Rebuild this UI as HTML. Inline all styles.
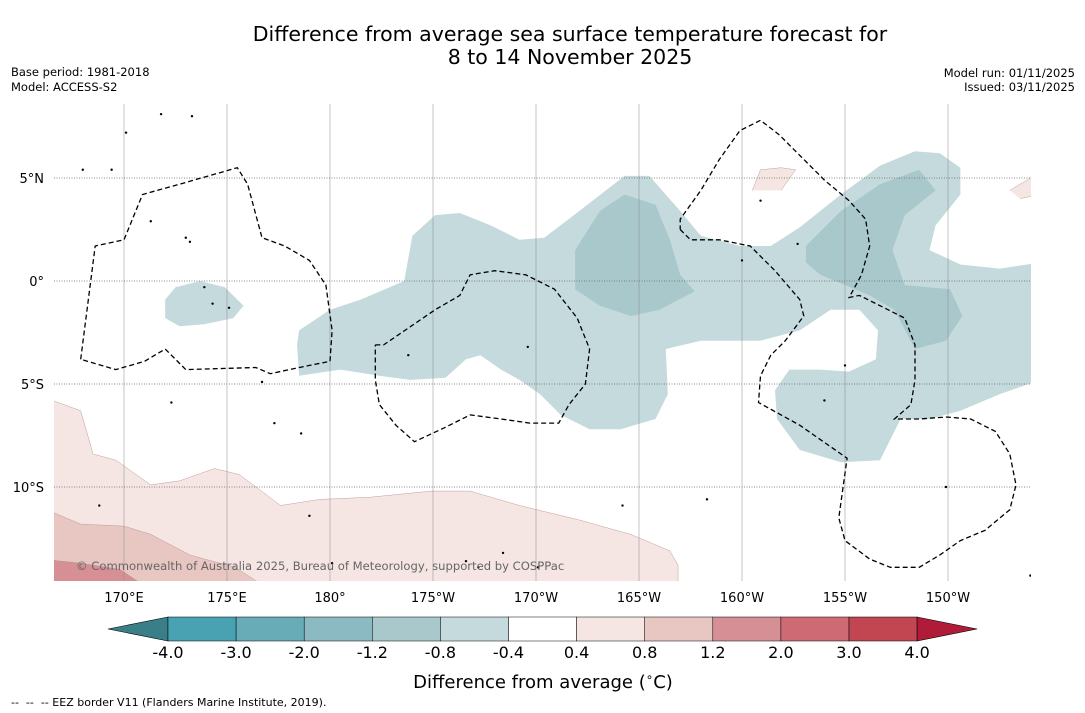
<!DOCTYPE html>
<html><head><meta charset="utf-8">
<style>
html,body{margin:0;padding:0;background:#fff;}
body{width:1085px;height:713px;overflow:hidden;font-family:"DejaVu Sans","Liberation Sans",sans-serif;}
svg{display:block;font-family:"DejaVu Sans","Liberation Sans",sans-serif;}
</style></head>
<body>
<svg id="chart" width="1085" height="713" viewBox="0 0 1085 713" xmlns="http://www.w3.org/2000/svg">
  <text x="570" y="41" font-size="20.5" text-anchor="middle" fill="#000">Difference from average sea surface temperature forecast for</text>
  <text x="570" y="64" font-size="20.5" text-anchor="middle" fill="#000">8 to 14 November 2025</text>
  <text x="11" y="76" font-size="11.5">Base period: 1981-2018</text>
  <text x="11" y="91" font-size="11.5">Model: ACCESS-S2</text>
  <text x="1075" y="77" font-size="11.5" text-anchor="end">Model run: 01/11/2025</text>
  <text x="1075" y="91" font-size="11.5" text-anchor="end">Issued: 03/11/2025</text>
  <defs><clipPath id="mapclip"><rect x="54" y="104" width="977" height="477"/></clipPath></defs>
  <g id="map" clip-path="url(#mapclip)"></g>
  <g id="axes"></g>
  <g id="cbar"></g>
  <text x="543" y="688" font-size="18" text-anchor="middle">Difference from average (<tspan font-size="12" dy="-7">∘</tspan><tspan dy="7">C)</tspan></text>
  <text x="11" y="706" font-size="11" xml:space="preserve">--  --  -- EEZ border V11 (Flanders Marine Institute, 2019).</text>
</svg>
<script>
// ---- data ----
const lonTicks = [170,175,180,185,190,195,200,205,210];
const lonTickLabels = ["170°E","175°E","180°","175°W","170°W","165°W","160°W","155°W","150°W"];
const latTicks = [5,0,-5,-10];
const latTickLabels = ["5°N","0°","5°S","10°S"];
const cbarLevels = ["-4.0","-3.0","-2.0","-1.2","-0.8","-0.4","0.4","0.8","1.2","2.0","3.0","4.0"];
const cbarColors = ["#48a2b2","#68acb8","#8bbac2","#a8c8cc","#c5dadd","#ffffff","#f5e6e4","#e8c7c2","#d58f95","#cd6a73","#c24552"];
const cbarUnder = "#3a7f88";
const cbarOver = "#b01c38";
// contour regions [lon(0-360), lat]
const tealLight = [[178.4,-3.1],[178.5,-2.4],[180.0,-1.4],[181.5,-0.9],[183.6,0.0],[184.0,2.2],[185.1,3.2],[186.3,3.3],[187.8,2.7],[189.2,2.0],[190.4,2.1],[192.1,3.4],[194.3,5.1],[195.5,5.1],[197.0,3.4],[198.0,2.2],[199.9,1.7],[201.4,1.7],[202.8,2.6],[204.8,4.2],[206.7,5.6],[208.4,6.3],[209.6,6.2],[210.6,5.5],[210.6,4.2],[209.4,2.7],[209.1,1.5],[210.6,0.8],[212.5,0.6],[214.5,0.9],[214.5,-4.8],[212.5,-5.5],[210.6,-6.3],[209.1,-6.7],[207.7,-6.7],[206.7,-8.7],[204.8,-8.8],[202.8,-8.2],[201.7,-6.7],[201.6,-5.3],[202.3,-4.3],[203.8,-4.3],[205.2,-4.4],[206.5,-3.8],[206.6,-2.4],[205.7,-1.4],[204.3,-1.4],[202.8,-2.4],[200.9,-2.9],[198.0,-2.9],[196.3,-3.3],[196.4,-5.5],[195.8,-6.7],[194.1,-7.2],[192.6,-7.2],[191.2,-6.5],[190.2,-5.5],[189.2,-4.8],[188.3,-4.3],[187.3,-3.6],[186.6,-3.8],[185.6,-4.7],[183.9,-4.8],[182.4,-4.6],[180.5,-4.3],[178.5,-4.6]];
const tealBlob = [[172.0,-0.9],[172.5,-0.3],[173.7,0.0],[174.9,-0.3],[175.8,-1.2],[175.3,-1.8],[173.9,-2.1],[172.7,-2.2],[172.0,-1.8]];
const tealDark1 = [[191.9,1.5],[193.1,3.4],[194.3,4.2],[195.8,3.7],[196.5,2.0],[197.0,0.3],[197.7,-0.5],[196.0,-1.4],[194.6,-1.7],[193.1,-1.2],[191.9,-0.4]];
const tealDark2 = [[203.1,1.7],[204.8,3.4],[206.7,4.7],[208.6,5.4],[209.4,4.4],[207.9,3.2],[207.3,1.5],[207.9,-0.2],[210.1,-0.4],[210.7,-1.7],[209.9,-2.9],[208.4,-3.3],[207.4,-1.4],[206.2,-0.7],[203.8,0.3],[203.1,0.9]];
const pinkLight = [[166.0,-5.6],[167.9,-6.3],[168.5,-8.4],[169.6,-8.7],[171.3,-9.9],[172.7,-9.7],[174.4,-9.1],[175.6,-9.4],[177.6,-10.9],[179.5,-10.6],[181.9,-10.5],[184.9,-10.2],[186.8,-10.2],[189.2,-10.9],[192.1,-11.6],[194.6,-12.3],[196.5,-13.1],[196.9,-13.8],[196.9,-15],[166.0,-15]];
const pinkMid = [[166.0,-11.0],[167.9,-11.8],[170.0,-11.9],[171.3,-12.3],[173.2,-13.3],[175.4,-13.9],[177.1,-15],[166.0,-15]];
const pinkDark = [[166.0,-13.5],[167.9,-13.7],[169.8,-14.0],[171.3,-15],[166.0,-15]];
const pinkBlob1 = [[200.5,4.4],[200.9,5.4],[201.9,5.5],[202.6,5.4],[201.9,4.4]];
const pinkBlob2 = [[213.0,4.4],[214.5,5.3],[214.5,4.2],[213.5,4.0]];
const eez1 = [[167.9,-3.8],[168.6,1.7],[170.0,2.0],[170.9,4.2],[172.7,4.7],[175.5,5.5],[176.0,4.7],[176.7,2.1],[177.8,1.7],[179.0,1.0],[179.8,-0.2],[180.1,-2.4],[180.0,-3.9],[178.5,-4.2],[177.1,-4.5],[176.4,-4.2],[173.0,-4.3],[172.0,-3.3],[171.0,-3.9],[169.6,-4.3],[167.9,-3.8]];
const eez2 = [[182.2,-3.1],[182.6,-3.1],[185.1,-1.4],[186.3,-0.7],[186.8,0.3],[188.0,0.5],[189.5,0.3],[190.9,-0.4],[192.0,-1.8],[192.6,-3.3],[192.4,-5.0],[191.6,-6.0],[191.1,-6.9],[189.7,-6.9],[188.3,-6.7],[186.8,-6.5],[185.6,-7.1],[184.1,-7.8],[183.2,-7.0],[182.4,-6.0],[182.2,-4.8],[182.2,-3.1]];
const eez3 = [[197.0,2.5],[197.5,2.0],[198.9,2.0],[200.4,1.7],[201.6,0.5],[202.8,-0.9],[203.0,-1.7],[202.1,-2.9],[201.4,-3.6],[200.9,-4.6],[200.8,-5.9],[202.8,-7.0],[205.1,-8.6],[204.7,-11.5],[205.0,-12.6],[206.2,-13.5],[207.2,-13.9],[208.6,-13.9],[209.6,-13.3],[210.6,-12.6],[211.8,-12.1],[213.0,-11.1],[213.3,-9.9],[213.0,-8.4],[212.3,-7.3],[211.1,-6.7],[209.9,-6.6],[208.6,-6.7],[207.4,-6.7],[208.2,-6.0],[208.4,-4.8],[208.4,-3.1],[207.9,-1.8],[206.7,-1.2],[205.7,-0.7],[205.2,-0.8],[205.8,0.3],[206.2,1.7],[206.0,3.0],[205.2,3.9],[204.0,4.9],[203.8,5.1],[202.8,6.1],[201.8,7.1],[200.9,7.8],[199.9,7.3],[198.9,5.9],[198.0,4.4],[197.0,3.0],[197.0,2.5]];
const islands = [[168.8,-10.9],[172.3,-5.9],[173.9,-0.3],[174.3,-1.1],[175.1,-1.3],[176.7,-4.9],[177.3,-6.9],[178.6,-7.4],[179.0,-11.4],[180.1,-13.7],[183.8,-3.6],[186.6,-13.6],[187.2,-13.9],[188.4,-13.2],[189.6,-3.2],[190.1,-13.9],[194.2,-10.9],[198.3,-10.6],[200.0,1.0],[200.9,3.9],[202.7,1.8],[204.0,-5.8],[205.0,-4.1],[209.9,-10.0],[214.0,-14.3],[171.3,2.9],[173.0,2.1],[173.2,1.9],[171.8,8.1],[173.3,8.0],[169.4,5.4],[170.1,7.2],[168.0,5.4]];
// ---- projection ----
const X = lon => 124 + (lon - 170) * 20.6;
const Y = lat => 281 - lat * 20.6;
const NS = "http://www.w3.org/2000/svg";
function mk(tag, parent){ const e=document.createElementNS(NS,tag); parent.appendChild(e); return e; }
function pts(arr){ return arr.map(p=>X(p[0]).toFixed(1)+","+Y(p[1]).toFixed(1)).join(" "); }
const map = document.getElementById("map");
function region(arr, color, name){
  const p = mk("polygon", map);
  
  
  p.setAttribute("points", pts(arr)); p.setAttribute("fill", color);
}
region(pinkLight, cbarColors[6], "anomaly-region-0.4-0.8");
region(pinkMid, cbarColors[7], "anomaly-region-0.8-1.2");
region(pinkDark, cbarColors[8], "anomaly-region-1.2-2.0");
region(pinkBlob1, cbarColors[6], "anomaly-region-0.4-0.8-north");
region(pinkBlob2, cbarColors[6], "anomaly-region-0.4-0.8-east");
region(tealLight, cbarColors[4], "anomaly-region-neg0.8-neg0.4");
region(tealBlob, cbarColors[4], "anomaly-region-neg0.8-neg0.4-west");
region(tealDark1, cbarColors[3], "anomaly-region-neg1.2-neg0.8-central");
region(tealDark2, cbarColors[3], "anomaly-region-neg1.2-neg0.8-east");
[pinkLight,pinkMid,pinkDark,pinkBlob1,pinkBlob2].forEach(a=>{
  const l = mk("polyline", map);
  
  
  l.setAttribute("points", pts(a)); l.setAttribute("fill","none"); l.setAttribute("stroke","#b08a86"); l.setAttribute("stroke-width","0.4");
});
// grid
lonTicks.forEach(lon=>{
  const l = mk("line", map);
  
  
  l.setAttribute("x1",X(lon)); l.setAttribute("x2",X(lon)); l.setAttribute("y1",104); l.setAttribute("y2",581);
  l.setAttribute("stroke","#8a8a8a"); l.setAttribute("stroke-width","0.5");
});
latTicks.forEach(lat=>{
  const l = mk("line", map);
  
  
  l.setAttribute("x1",54); l.setAttribute("x2",1031); l.setAttribute("y1",Y(lat)); l.setAttribute("y2",Y(lat));
  l.setAttribute("stroke","#666"); l.setAttribute("stroke-width","0.7"); l.setAttribute("stroke-dasharray","1,1.5");
});
islands.forEach(p=>{
  const c = mk("circle", map);
  
  
  c.setAttribute("cx",X(p[0])); c.setAttribute("cy",Y(p[1])); c.setAttribute("r",1.2); c.setAttribute("fill","#000");
});
[eez1,eez2,eez3].forEach(a=>{
  const l = mk("polyline", map);
  
  
  l.setAttribute("points", pts(a)); l.setAttribute("fill","none"); l.setAttribute("stroke","#000"); l.setAttribute("stroke-width","1.3"); l.setAttribute("stroke-dasharray","5,3");
});
const cr = mk("text", map);


cr.setAttribute("x",76); cr.setAttribute("y",570); cr.setAttribute("font-size","11.6"); cr.setAttribute("fill","#666");
cr.textContent = "© Commonwealth of Australia 2025, Bureau of Meteorology, supported by COSPPac";
// axis labels
const axes = document.getElementById("axes");
lonTicks.forEach((lon,i)=>{
  const t = mk("text", axes);
  
  
  t.setAttribute("x",X(lon)); t.setAttribute("y",602); t.setAttribute("font-size","13"); t.setAttribute("text-anchor","middle");
  t.textContent = lonTickLabels[i];
});
latTicks.forEach((lat,i)=>{
  const t = mk("text", axes);
  
  
  t.setAttribute("x",44); t.setAttribute("y",Y(lat)+5); t.setAttribute("font-size","13"); t.setAttribute("text-anchor","end");
  t.textContent = latTickLabels[i];
});
// colorbar
const cb = document.getElementById("cbar");
const cx0 = 168, cw = 68.1, cy = 617, ch = 24;
const under = mk("polygon", cb);


under.setAttribute("points", `${cx0},${cy} 108,${cy+ch/2} ${cx0},${cy+ch}`); under.setAttribute("fill",cbarUnder); under.setAttribute("stroke","#000"); under.setAttribute("stroke-width","0.6");
cbarColors.forEach((c,i)=>{
  const r = mk("rect", cb);
  
  
  r.setAttribute("x",cx0+i*cw); r.setAttribute("y",cy); r.setAttribute("width",cw); r.setAttribute("height",ch);
  r.setAttribute("fill",c); r.setAttribute("stroke","#000"); r.setAttribute("stroke-width","0.5");
});
const xe = cx0 + cbarColors.length*cw;
const over = mk("polygon", cb);


over.setAttribute("points", `${xe},${cy} ${xe+60},${cy+ch/2} ${xe},${cy+ch}`); over.setAttribute("fill",cbarOver); over.setAttribute("stroke","#000"); over.setAttribute("stroke-width","0.6");
cbarLevels.forEach((lv,i)=>{
  const t = mk("text", cb);
  
  
  t.setAttribute("x",cx0+i*cw); t.setAttribute("y",658); t.setAttribute("font-size","16"); t.setAttribute("text-anchor","middle");
  t.textContent = lv;
});
</script>
</body></html>
